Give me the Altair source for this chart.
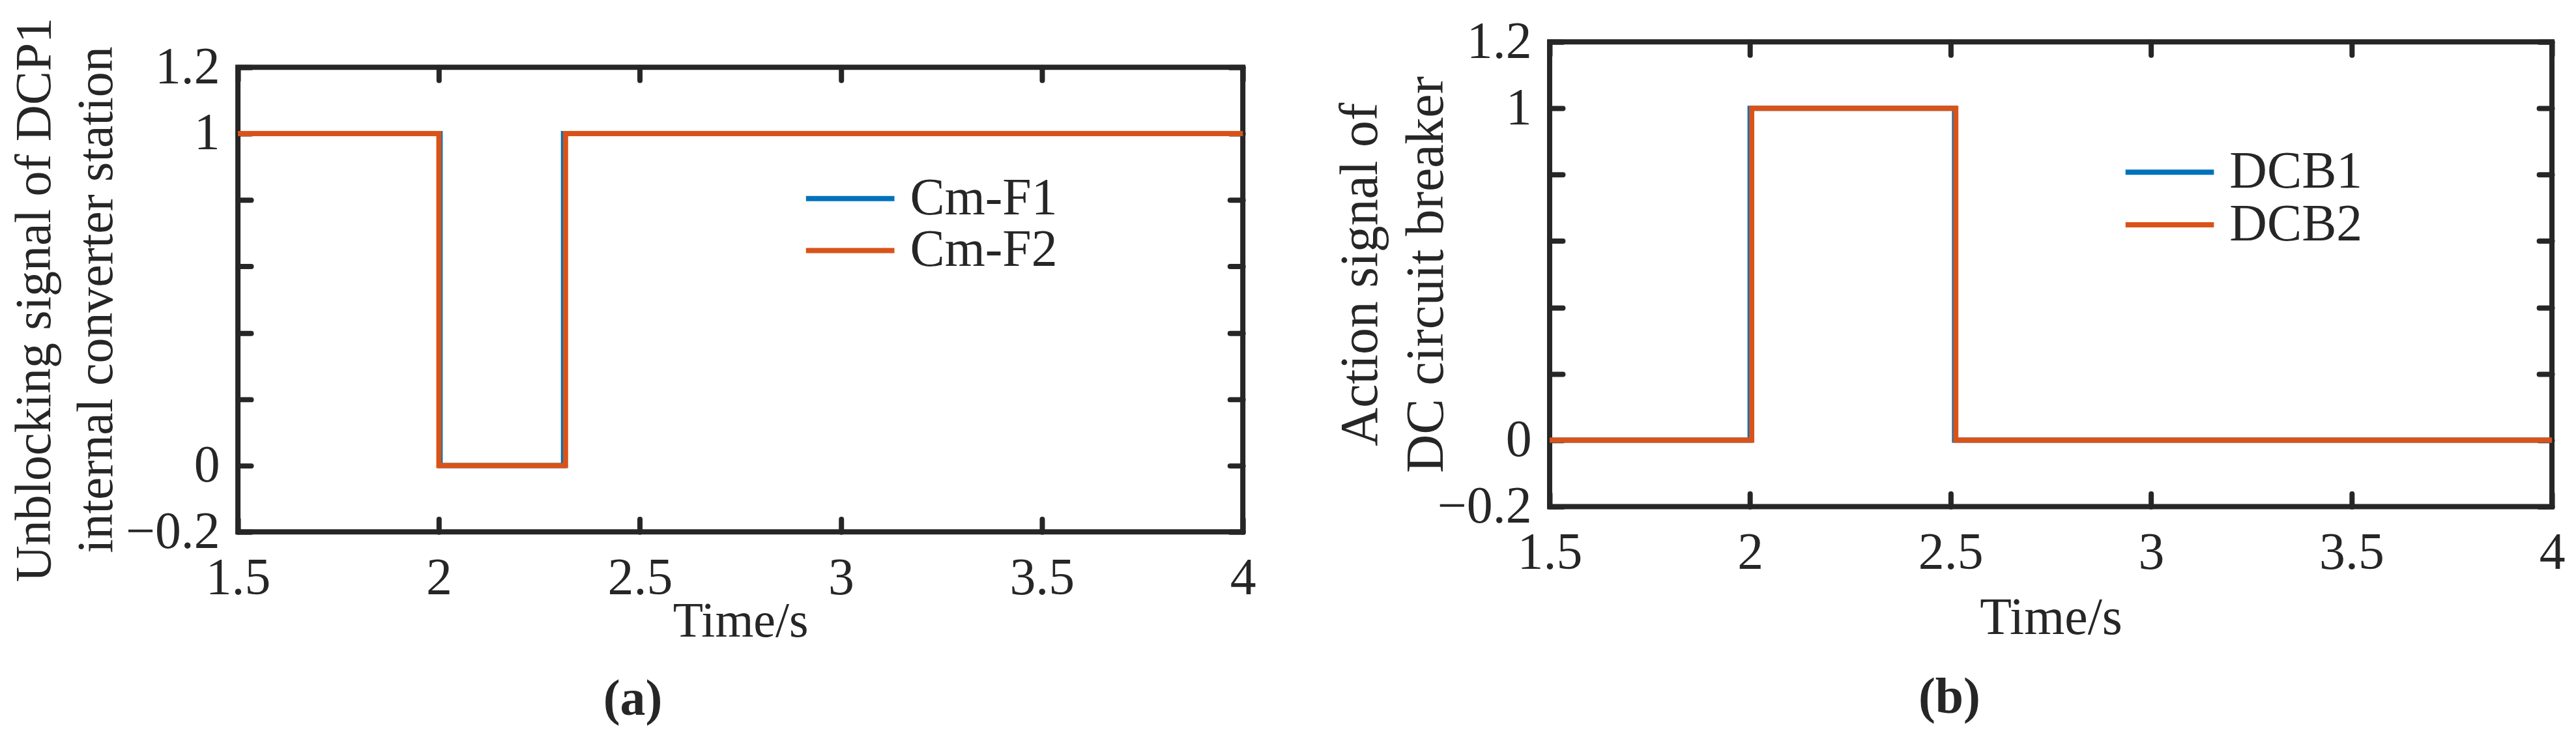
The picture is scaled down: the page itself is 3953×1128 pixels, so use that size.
import altair as alt
import pandas as pd

# ---------------- data ----------------
# panel (a): unblocking signal
a_series = ["Cm-F1", "Cm-F2"]
a_time_f1 = [1.5, 2.003, 2.003, 2.310, 2.310, 4.0]
a_sig_f1 = [1, 1, 0, 0, 1, 1]
a_time_f2 = [1.5, 2.0, 2.0, 2.315, 2.315, 4.0]
a_sig_f2 = [1, 1, 0, 0, 1, 1]

# panel (b): DC circuit breaker action signal
b_series = ["DCB1", "DCB2"]
b_time_1 = [1.5, 2.0, 2.0, 2.510, 2.510, 4.0]
b_sig_1 = [0, 0, 1, 1, 0, 0]
b_time_2 = [1.5, 2.004, 2.004, 2.513, 2.513, 4.0]
b_sig_2 = [0, 0, 1, 1, 0, 0]

x_ticks = [1.5, 2, 2.5, 3, 3.5, 4]
y_ticks = [-0.2, 0, 0.2, 0.4, 0.6, 0.8, 1.0, 1.2]
y_labeled = [-0.2, 0, 1, 1.2]
colors = ["#0072BD", "#D95319"]

FONT = "Liberation Serif"
INK = "#262626"


def frame(series, times, sigs):
    rows = []
    for s, ts, vs in zip(series, times, sigs):
        for i, (t, v) in enumerate(zip(ts, vs)):
            rows.append({"series": s, "t": t, "v": v, "idx": i})
    return pd.DataFrame(rows)


df_a = frame(a_series, [a_time_f1, a_time_f2], [a_sig_f1, a_sig_f2])
df_b = frame(b_series, [b_time_1, b_time_2], [b_sig_1, b_sig_2])

lab_codes = ",".join(str(int(round(v * 10))) for v in y_labeled)
y_label_expr = f"indexof([{lab_codes}], round(datum.value*10)) >= 0 ? datum.label : ''"


def panel(df, series, width, height, ytitle, ytitle_size, ytitle_lh, ytitle_x,
          xtitle_size, xtitle_y, leg_x, leg_y, leg_row, tag, tag_offset):
    xscale = alt.Scale(domain=[1.5, 4], nice=False, zero=False)
    yscale = alt.Scale(domain=[-0.2, 1.2], nice=False, zero=False)
    base = alt.Chart(df)
    main = base.mark_line(strokeWidth=8, strokeJoin="miter").encode(
        x=alt.X("t:Q", scale=xscale, axis=alt.Axis(
            orient="bottom", values=x_ticks, format="~g", offset=-20, tickSize=20,
            domain=False, labelPadding=32, labelFlush=False, title="Time/s",
            titleY=xtitle_y, titleBaseline="alphabetic", titleFontSize=xtitle_size)),
        y=alt.Y("v:Q", scale=yscale, axis=alt.Axis(
            orient="left", values=y_ticks, format="~g", labelExpr=y_label_expr,
            offset=-20, tickSize=20, domain=False, labelPadding=28, labelFlush=False,
            title=ytitle, titleX=ytitle_x, titleBaseline="alphabetic",
            titleFontSize=ytitle_size, titleLineHeight=ytitle_lh)),
        color=alt.Color("series:N", scale=alt.Scale(domain=series, range=colors),
                        legend=alt.Legend(orient="none", legendX=leg_x, legendY=leg_y,
                                          title=None, symbolType="stroke",
                                          symbolSize=18496, symbolStrokeWidth=8,
                                          labelFont=FONT, labelFontSize=80,
                                          labelColor=INK, labelOffset=20,
                                          labelLimit=600, clipHeight=leg_row,
                                          rowPadding=0, padding=0)),
        order="idx:Q",
    )
    overlay = base.mark_line(strokeOpacity=0).encode(
        x=alt.X("t:Q", scale=xscale, axis=alt.Axis(
            orient="top", values=x_ticks, offset=-20, tickSize=20, domain=False,
            labels=False, title=None)),
        y=alt.Y("v:Q", scale=yscale, axis=alt.Axis(
            orient="right", values=y_ticks, offset=-20, tickSize=20, domain=False,
            labels=False, title=None)),
        detail="series:N",
        order="idx:Q",
    )
    return alt.layer(main, overlay).resolve_axis(
        x="independent", y="independent"
    ).properties(
        width=width, height=height,
        title=alt.TitleParams(text=tag, orient="bottom", anchor="middle", frame="bounds",
                              font=FONT, fontSize=78, fontWeight="bold", color=INK,
                              offset=tag_offset),
    )


# legend of (a) is placed relative to its column, whose top is the spacer's top
pa = panel(df_a, a_series, 1546, 715,
           ["Unblocking signal of DCP1", "internal converter station"], 78, 95, -309,
           76, 181, 870, 209, 64, "(a)", 43)
pb = panel(df_b, b_series, 1542, 715,
           ["Action signal of", "DC circuit breaker"], 82, 101, -286,
           80, 216, 882, 168, 65, "(b)", 43)

# invisible spacer that lowers panel (a) relative to panel (b)
spacer = alt.Chart(pd.DataFrame({"t": [1.5]})).mark_point(opacity=0).encode(
    x=alt.X("t:Q", axis=None), y=alt.value(0)
).properties(width=1546, height=39, view=alt.ViewBackground(strokeOpacity=0))

col_a = alt.vconcat(spacer, pa, spacing=0, bounds="flush")

chart = alt.hconcat(col_a, pb, spacing=111).resolve_scale(
    color="independent"
).properties(
    padding={"left": 2, "top": 11, "right": 5, "bottom": 5}
).configure_view(
    stroke=INK, strokeWidth=8
).configure_axis(
    labelFont=FONT, labelFontSize=80, labelColor=INK,
    titleFont=FONT, titleColor=INK, titleFontWeight="normal",
    tickColor=INK, tickWidth=8, tickCap="round", labelOverlap=False, grid=False,
)

chart.save("out.html", embed_options={"renderer": "svg", "actions": False})
